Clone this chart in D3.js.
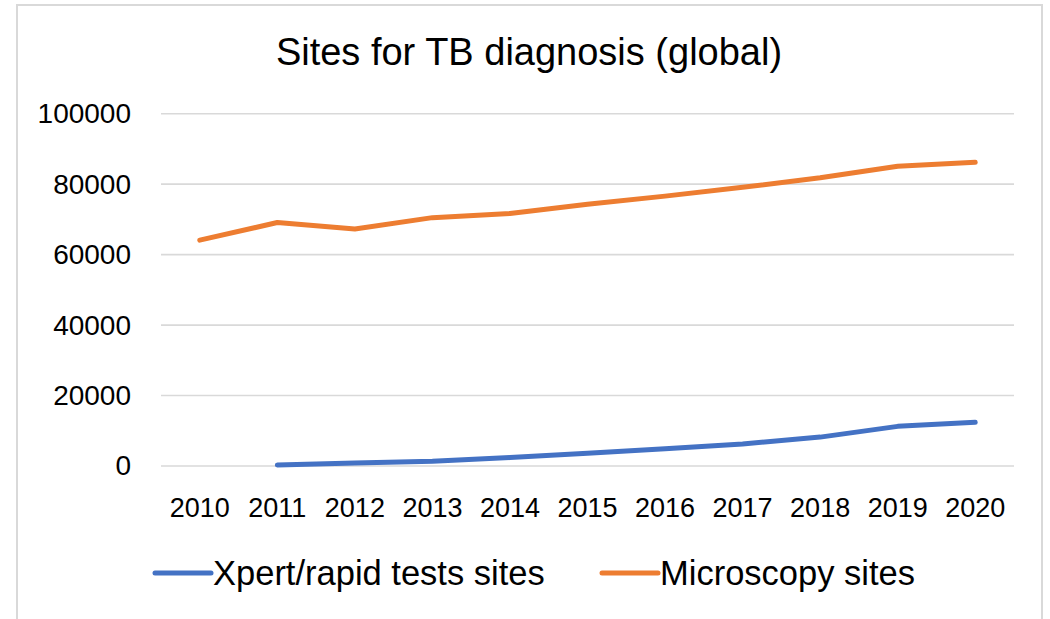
<!DOCTYPE html>
<html>
<head>
<meta charset="utf-8">
<script src="https://cdn.jsdelivr.net/npm/d3@7"></script>
<style>
  html, body { margin: 0; padding: 0; background: #fff; }
  svg { display: block; font-family: "Liberation Sans", Arial, sans-serif; }
</style>
</head>
<body>
<svg id="chart" width="1050" height="619"></svg>
<script>
const years = ["2010","2011","2012","2013","2014","2015","2016","2017","2018","2019","2020"];
const xpertSites = [null, 300, 850, 1350, 2400, 3600, 4900, 6250, 8200, 11250, 12400];
const microscopySites = [64100, 69100, 67300, 70500, 71700, 74300, 76600, 79100, 81800, 85100, 86200];
const yTicks = [0, 20000, 40000, 60000, 80000, 100000];
const seriesNames = ["Xpert/rapid tests sites", "Microscopy sites"];
const seriesColors = ["#4472C4", "#ED7D31"];

const svg = d3.select("#chart");

// chart border
svg.append("path")
  .attr("d", "M17,630 L17,5 L1042,5 L1042,630")
  .attr("fill", "none").attr("stroke", "#D9D9D9").attr("stroke-width", 2);

// title
svg.append("text")
  .attr("x", 529).attr("y", 65)
  .attr("text-anchor", "middle")
  .attr("font-size", 38)
  .attr("fill", "#000")
  .text("Sites for TB diagnosis (global)");

const x = d3.scaleBand().domain(years).range([161, 1014]);
const y = d3.scaleLinear().domain([0, 100000]).range([466, 113.7]);

// gridlines
svg.append("g").selectAll("line").data(yTicks).join("line")
  .attr("x1", 161).attr("x2", 1014)
  .attr("y1", d => y(d)).attr("y2", d => y(d))
  .attr("stroke", "#D9D9D9").attr("stroke-width", 1.6);

// y axis
const yAxis = svg.append("g")
  .attr("transform", "translate(131,0)")
  .call(d3.axisLeft(y).tickValues(yTicks).tickSize(0).tickPadding(0).tickFormat(d3.format("d")));
yAxis.select(".domain").remove();
yAxis.selectAll("text").attr("font-size", 28).attr("fill", "#000").attr("font-family", "Liberation Sans, Arial, sans-serif");

// x axis
const xAxis = svg.append("g")
  .attr("transform", "translate(0,466)")
  .call(d3.axisBottom(x).tickSize(0).tickPadding(0));
xAxis.select(".domain").remove();
xAxis.selectAll("text").attr("font-size", 27).attr("fill", "#000")
  .attr("dy", null).attr("y", 51).attr("font-family", "Liberation Sans, Arial, sans-serif");

// lines
const cx = d => x(d) + x.bandwidth() / 2;
const line = d3.line()
  .defined(d => d.v !== null)
  .x(d => cx(d.year)).y(d => y(d.v));

[xpertSites, microscopySites].forEach((arr, i) => {
  svg.append("path")
    .datum(years.map((yr, j) => ({ year: yr, v: arr[j] })))
    .attr("d", line)
    .attr("fill", "none")
    .attr("stroke", seriesColors[i])
    .attr("stroke-width", 5)
    .attr("stroke-linecap", "round")
    .attr("stroke-linejoin", "round");
});

// legend
const legendX = [155, 602];
seriesNames.forEach((name, i) => {
  const g = svg.append("g").attr("transform", `translate(${legendX[i]},573)`);
  g.append("line").attr("x1", 0).attr("x2", 56).attr("y1", 0).attr("y2", 0)
    .attr("stroke", seriesColors[i]).attr("stroke-width", 5).attr("stroke-linecap", "round");
  g.append("text").attr("x", 58).attr("y", 12)
    .attr("font-size", 34.5).attr("fill", "#000").text(name);
});
</script>
</body>
</html>
